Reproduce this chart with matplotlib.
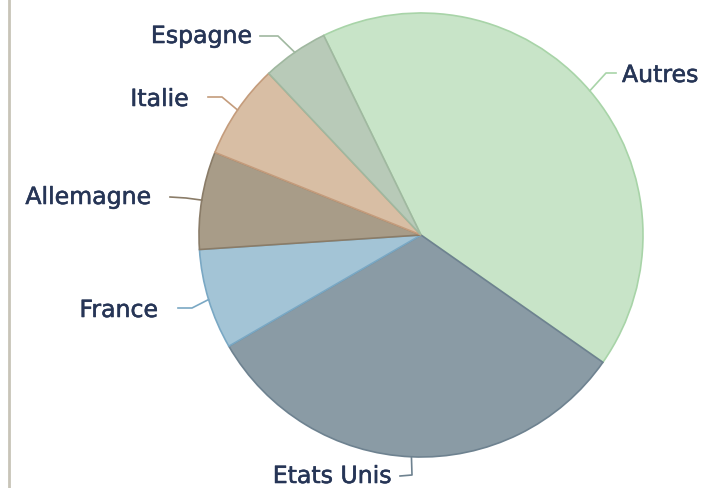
import numpy as np
import matplotlib.pyplot as plt
import matplotlib.patheffects as pe

# pays et parts (en %)
labels = ["Autres", "Etats Unis", "France", "Allemagne", "Italie", "Espagne"]
shares = [41.9, 31.9, 7.3, 7.1, 6.9, 4.8]

fills = ["#c8e4c8", "#8a9ba5", "#a3c4d6", "#a89c88", "#d8bea4", "#b8cab8"]
edges = ["#a8d4a8", "#6e8290", "#7aa8c4", "#8a7c68", "#c49c7c", "#a0b8a0"]

W, H = 706, 488
fig = plt.figure(figsize=(W / 100, H / 100), dpi=100)
ax = fig.add_axes([0, 0, 1, 1])

cx, cy, r = 421, H - 235, 222
wedges, _ = ax.pie(shares, startangle=116, counterclock=False, colors=fills,
                   center=(cx, cy), radius=r, frame=True,
                   wedgeprops=dict(linewidth=1.2))
for w, ec in zip(wedges, edges):
    w.set_edgecolor(ec)
ax.set_xlim(0, W)
ax.set_ylim(0, H)
ax.axis("off")

# elbow / end of leader line and text anchor (pixel coords, y from top)
leaders = {
    "Autres":     ((606, 73), (616, 73), (622, 82), "left"),
    "Etats Unis": ((412, 475), (400, 476), (392, 483), "right"),
    "France":     ((192, 308), (178, 308), (158, 317), "right"),
    "Allemagne":  ((186, 198), (170, 197), (151, 204), "right"),
    "Italie":     ((222, 97), (208, 97), (189, 106), "right"),
    "Espagne":    ((278, 36), (260, 36), (252, 43), "right"),
}

for w, lab, ec in zip(wedges, labels, edges):
    mid = np.deg2rad((w.theta1 + w.theta2) / 2)
    x0, y0 = cx + r * np.cos(mid), cy + r * np.sin(mid)
    (ex, ey), (tx, ty), (lx, ly), ha = leaders[lab]
    ax.plot([x0, ex, tx], [y0, H - ey, H - ty], color=ec, lw=1.2)
    t = ax.text(lx, H - ly, lab, ha=ha, va="baseline", fontsize=17,
                color="#263556", family="DejaVu Sans")
    t.set_path_effects([pe.withStroke(linewidth=0.4, foreground="#263556")])

ax.plot([8.5, 8.5], [0, H], color="#c8c4b8", lw=2)

fig.savefig("out.png", dpi=100)
